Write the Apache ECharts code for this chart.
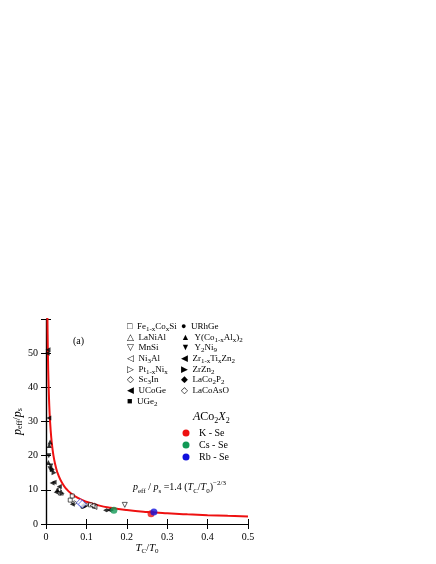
<!DOCTYPE html>
<html><head><meta charset="utf-8">
<script src="https://cdn.jsdelivr.net/npm/echarts@6/dist/echarts.min.js"></script>
<style>html,body{margin:0;background:#fff}#chart{width:436px;height:564px}</style>
</head><body><div id="chart"></div>
<script>
// data: [Tc/T0, peff/ps]
var feCoSi = [[0.06,7],[0.065,8.2],[0.12,5.2],[0.11,5.6]];
var laNiAl = [[0.033,10.2],[0.037,9.2]];
var mnSi = [[0.195,5.6]];
var ni3Al = [[0.12,5.0],[0.115,5.4]];
var ptNi = [[0.10,5.6]];
var sc3In = [[0.07,6.2]];
var uCoGe = [[0.065,5.8],[0.007,31]];
var uGe2 = [[0.092,5.4]];
var uRhGe = [[0.09,5.0]];
var yCoAl = [[0.01,24],[0.008,23],[0.006,18],[0.015,16],[0.028,10]];
var y2Ni9 = [[0.007,20],[0.012,17],[0.01,16.2]];
var zrTiZn = [[0.015,12],[0.02,12.2],[0.033,11],[0.025,9.3],[0.005,51],[0.003,50]];
var zrZn2 = [[0.016,16],[0.02,15],[0.04,9]];
var laCo2P2 = [[0.15,4],[0.16,4.1],[0.095,5.2]];
var laCoAsO = [[0.085,6.2],[0.09,5.8]];
var kSe = [[0.26,3.0]];
var csSe = [[0.168,4.0]];
var rbSe = [[0.267,3.5]];
var xTicks = [0, 0.1, 0.2, 0.3, 0.4, 0.5];
var yTicks = [0, 10, 20, 30, 40, 50, 60];

var fitX = [0.0035,0.004,0.005,0.006,0.008,0.01,0.013,0.016,0.02,0.025,0.03,0.04,0.05,0.06,0.08,0.1,0.13,0.16,0.2,0.25,0.3,0.35,0.4,0.45,0.5];
var fit = fitX.map(function(x){ return [x, 1.4*Math.pow(x,-2/3)]; });

var chart = echarts.init(document.getElementById('chart'));
var ff = 'Liberation Serif';
var left = 'path://M1,0L1,1L0,0.5Z', right = 'path://M0,0L0,1L1,0.5Z';
var diam = 'path://M0.5,0L1,0.5L0.5,1L0,0.5Z';
function sc(name, data, symbol, color, size, filled) {
  return { name: name, type: 'scatter', data: data, symbol: symbol, symbolSize: size || 5, z: 3,
    itemStyle: filled === false ? { color: '#fff', borderColor: color, borderWidth: 0.8 } : { color: color } };
}
var series = [
  sc('Fe', feCoSi, 'rect', '#000', 4, false),
  sc('LaNiAl', laNiAl, 'triangle', '#000', 5, false),
  sc('MnSi', mnSi, 'path://M0,0L1,0L0.5,1Z', '#000', 5, false),
  sc('Ni3Al', ni3Al, left, '#000', 5, false),
  sc('Pt', ptNi, right, '#000', 5, false),
  sc('Sc3In', sc3In, diam, '#000', [6,4], false),
  sc('UCoGe', uCoGe, left, '#000', 5),
  sc('UGe2', uGe2, 'rect', '#000', 4),
  sc('URhGe', uRhGe, 'circle', '#000', 4),
  sc('YCoAl', yCoAl, 'triangle', '#000', 5),
  sc('Y2Ni9', y2Ni9, 'path://M0,0L1,0L0.5,1Z', '#000', 5),
  sc('ZrTiZn', zrTiZn, left, '#000', 5),
  sc('ZrZn2', zrZn2, right, '#000', 5),
  sc('LaCo2P2', laCo2P2, diam, '#000', [7,4]),
  sc('LaCoAsO', laCoAsO, diam, '#2233dd', 8, false),
  sc('K', kSe, 'circle', '#ee1111', 7),
  sc('Cs', csSe, 'circle', '#119955', 7),
  sc('Rb', rbSe, 'circle', '#1111dd', 7),
  { type: 'line', data: fit, smooth: true, showSymbol: false, lineStyle: { color: '#ee1111', width: 2 }, z: 2 }
];

// legend drawn as text items
var col1 = ['□  Fe{s|1-x}Co{s|x}Si','△  LaNiAl','▽  MnSi','◁  Ni{s|3}Al','▷  Pt{s|1-x}Ni{s|x}','◇  Sc{s|3}In','◀  UCoGe','■  UGe{s|2}'];
var col2 = ['●  URhGe','▲  Y(Co{s|1-x}Al{s|x}){s|2}','▼  Y{s|2}Ni{s|9}','◀  Zr{s|1-x}Ti{s|x}Zn{s|2}','▶  ZrZn{s|2}','◆  LaCo{s|2}P{s|2}','{b|◇}  LaCoAsO'];
var rich = { s: { fontSize: 7, fontFamily: ff, verticalAlign: 'bottom', padding: [5,0,0,0] },
  b: { fontSize: 9, fontFamily: ff, color: '#2233dd' } };
var g = [];
col1.forEach(function(t, i){ g.push({ type: 'text', left: 127, top: 322 + i*10.7, style: { text: t, fontFamily: ff, fontSize: 9, rich: rich } }); });
col2.forEach(function(t, i){ g.push({ type: 'text', left: 181, top: 322 + i*10.7, style: { text: t, fontFamily: ff, fontSize: 9, rich: rich } }); });
g.push({ type: 'text', left: 193, top: 411, style: { text: '{i|A}Co{s|2}{i|X}{s|2}', fontFamily: ff, fontSize: 12,
  rich: { i: { fontStyle: 'italic', fontSize: 12, fontFamily: ff }, s: { fontSize: 8, fontFamily: ff, verticalAlign: 'bottom', padding: [7,0,0,0] } } } });
[['K - Se','#ee1111'],['Cs - Se','#119955'],['Rb - Se','#1111dd']].forEach(function(r, i){
  g.push({ type: 'circle', shape: { cx: 186, cy: 433 + i*12, r: 3.5 }, style: { fill: r[1] } });
  g.push({ type: 'text', left: 199, top: 428 + i*12, style: { text: r[0], fontFamily: ff, fontSize: 10 } });
});
g.push({ type: 'text', left: 73, top: 336, style: { text: '(a)', fontFamily: ff, fontSize: 10 } });
g.push({ type: 'text', left: 133, top: 480, style: { text: '{i|p}{s|eff} / {i|p}{s|s} =1.4 ({i|T}{s|C}/{i|T}{s|0}){u|−2/3}', fontFamily: ff, fontSize: 10,
  rich: { i: { fontStyle: 'italic', fontSize: 10, fontFamily: ff }, s: { fontSize: 7, fontFamily: ff, verticalAlign: 'bottom', padding: [5,0,0,0] },
    u: { fontSize: 7, fontFamily: ff, verticalAlign: 'top', padding: [0,0,8,0] } } } });

var axisBase = { axisLine: { lineStyle: { color: '#000', width: 1.2 } }, axisTick: { inside: true, length: 5, lineStyle: { color: '#000' } }, splitLine: { show: false } };
chart.setOption({
  animation: false,
  grid: { left: 46, right: 188, top: 319, bottom: 40 },
  xAxis: [
    Object.assign({ type: 'value', min: 0, max: 0.5, interval: 0.1,
      axisLabel: { color: '#000', fontFamily: ff, fontSize: 10, formatter: function(v){ return xTicks.indexOf(v) >= 0 ? String(v) : ''; } },
      name: '{i|T}{s|C}/{i|T}{s|0}', nameLocation: 'middle', nameGap: 18,
      nameTextStyle: { fontFamily: ff, fontSize: 10, color: '#000', rich: { i: { fontStyle: 'italic', fontFamily: ff, fontSize: 11 }, s: { fontSize: 7, fontFamily: ff, verticalAlign: 'bottom', padding: [5,0,0,0] } } } }, axisBase),
    Object.assign({ type: 'value', min: 0, max: 0.5, interval: 0.1, position: 'top', axisLabel: { show: false } }, axisBase)
  ],
  yAxis: [
    Object.assign({ type: 'value', min: 0, max: 60, interval: 10,
      axisLabel: { color: '#000', fontFamily: ff, fontSize: 10, formatter: function(v){ return v < 60 && yTicks.indexOf(v) >= 0 ? String(v) : ''; } },
      name: '{i|p}{s|eff}/{i|p}{s|s}', nameLocation: 'middle', nameGap: 22, nameRotate: 90,
      nameTextStyle: { fontFamily: ff, fontSize: 11, color: '#000', rich: { i: { fontStyle: 'italic', fontFamily: ff, fontSize: 12 }, s: { fontSize: 8, fontFamily: ff, verticalAlign: 'bottom', padding: [5,0,0,0] } } } }, axisBase),
    Object.assign({ type: 'value', min: 0, max: 60, interval: 10, position: 'right', axisLabel: { show: false } }, axisBase)
  ],
  graphic: g,
  series: series
});
</script></body></html>
